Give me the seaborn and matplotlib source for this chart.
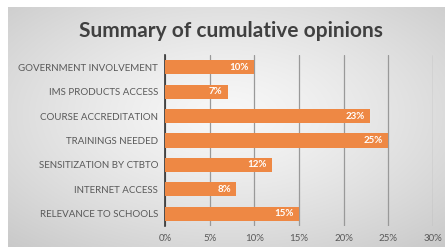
import numpy as np
import pandas as pd
import seaborn as sns
from matplotlib import pyplot as plt
from matplotlib.ticker import PercentFormatter

categories = [
    "GOVERNMENT INVOLVEMENT",
    "IMS PRODUCTS ACCESS",
    "COURSE ACCREDITATION",
    "TRAININGS NEEDED",
    "SENSITIZATION BY CTBTO",
    "INTERNET ACCESS",
    "RELEVANCE TO SCHOOLS",
]
opinion_pct = [10, 7, 23, 25, 12, 8, 15]
x_ticks = [0, 5, 10, 15, 20, 25, 30]

BAR_COLOR = "#EE8844"
TEXT_GRAY = "#595959"

sns.set_style("white")
plt.rcParams["font.family"] = ["Lato", "DejaVu Sans"]

df = pd.DataFrame({"category": categories, "pct": opinion_pct})

fig = plt.figure(figsize=(4.45, 2.47), dpi=100)

# gray gradient panel behind the chart (light centre, darker edges)
bg = fig.add_axes([8 / 445, 0, 1 - 8 / 445, 1 - 7 / 247], zorder=-10)
yy, xx = np.mgrid[-1:1:200j, -1:1:300j]
r = np.sqrt(xx ** 2 + (yy + 0.1) ** 2) / np.sqrt(2)
shade = np.clip(0.97 - 0.17 * r ** 1.3, 0, 1)
bg.imshow(np.dstack([shade] * 3), aspect="auto", extent=[0, 1, 0, 1],
          interpolation="bilinear")
bg.set_axis_off()

ax = fig.add_axes([165 / 445, 1 - 226 / 247, (433 - 165) / 445, (226 - 55) / 247])
ax.patch.set_alpha(0)
sns.barplot(data=df, x="pct", y="category", color=BAR_COLOR, width=0.58,
            saturation=1, linewidth=0, ax=ax, zorder=3)

for i, v in enumerate(opinion_pct):
    ax.text(v - 0.6, i, f"{v}%", ha="right", va="center", color="white",
            fontsize=7, fontweight="bold", zorder=4)

ax.set_xlim(0, 30)
ax.set_xticks(x_ticks)
ax.xaxis.set_major_formatter(PercentFormatter(decimals=0))
ax.grid(axis="x", color="#999999", lw=0.9, zorder=0)
ax.set_xlabel("")
ax.set_ylabel("")
for s in ["top", "right", "bottom"]:
    ax.spines[s].set_visible(False)
ax.spines["left"].set_color("#333333")
ax.spines["left"].set_linewidth(1.2)
ax.tick_params(axis="both", length=0, labelsize=7, colors=TEXT_GRAY, pad=5)
ax.tick_params(axis="x", pad=6)

fig.text(0.52, 0.875, "Summary of cumulative opinions", ha="center", va="center",
         fontsize=15, fontweight="bold", color="#404040")

plt.savefig("out.png", dpi=100)
